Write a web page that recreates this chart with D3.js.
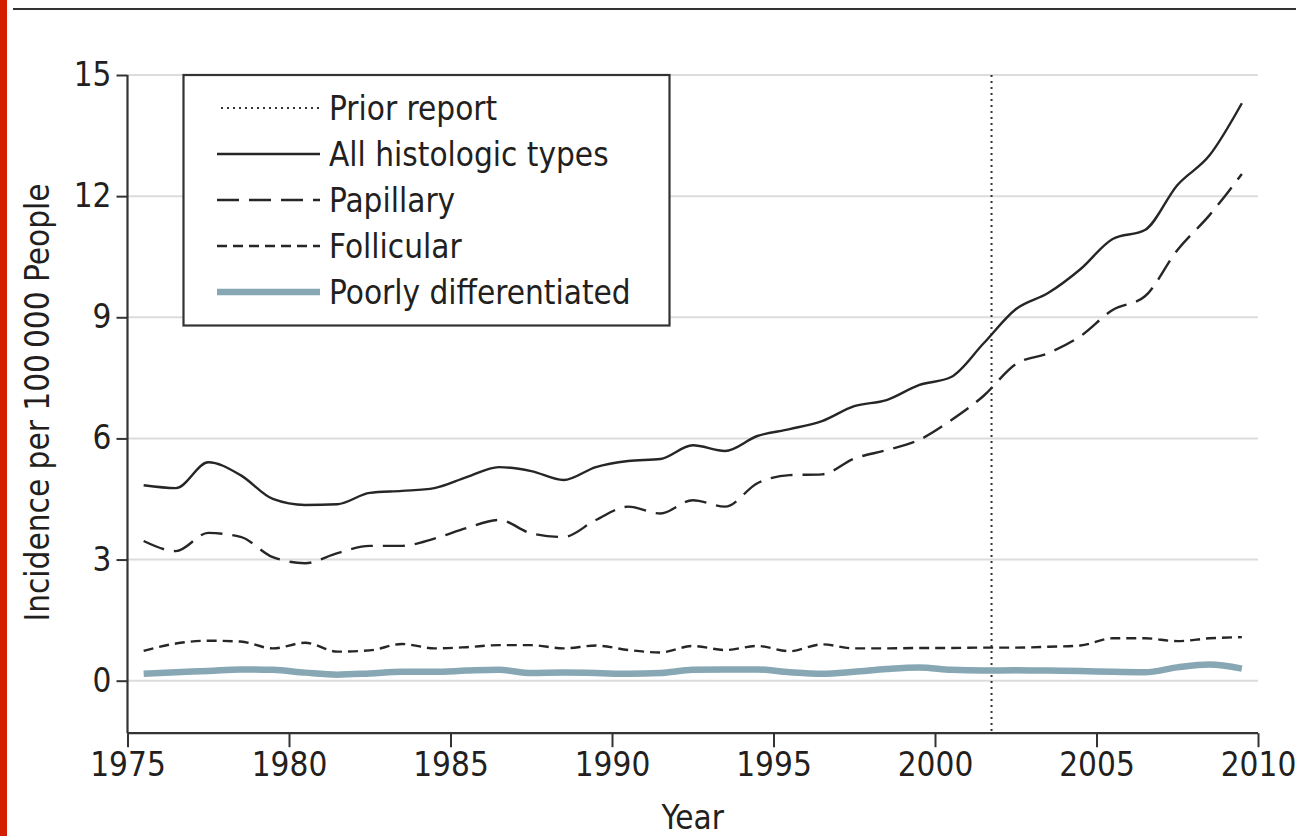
<!DOCTYPE html>
<html>
<head>
<meta charset="utf-8">
<script src="https://cdn.jsdelivr.net/npm/d3@7"></script>
<style>
  html, body { margin: 0; padding: 0; background: #fff; }
  svg { display: block; }
  text { font-family: "Liberation Sans Narrow", "DejaVu Sans Condensed", "Liberation Sans", sans-serif; fill: #231f20; }
</style>
</head>
<body>
<svg id="chart" width="1296" height="836"></svg>
<script>
// Thyroid cancer incidence per 100 000 people by histologic type, 1975-2009
const years = d3.range(1975, 2010);

const allTypes = [4.84, 4.77, 5.41, 5.09, 4.50, 4.35, 4.37, 4.65, 4.70, 4.77,
  5.04, 5.29, 5.19, 4.97, 5.29, 5.44, 5.49, 5.83, 5.69, 6.06,
  6.23, 6.43, 6.80, 6.95, 7.32, 7.52, 8.35, 9.20, 9.60, 10.19,
  10.94, 11.16, 12.27, 13.01, 14.30];

const papillary = [3.46, 3.21, 3.66, 3.56, 3.06, 2.91, 3.16, 3.34, 3.34, 3.52,
  3.78, 3.98, 3.65, 3.56, 3.98, 4.31, 4.14, 4.47, 4.31, 4.89,
  5.09, 5.11, 5.50, 5.71, 5.96, 6.45, 7.05, 7.84, 8.11, 8.53,
  9.18, 9.52, 10.66, 11.53, 12.55];

const follicular = [0.74, 0.92, 0.99, 0.97, 0.80, 0.94, 0.72, 0.75, 0.91, 0.80,
  0.83, 0.88, 0.88, 0.80, 0.87, 0.76, 0.70, 0.86, 0.76, 0.86,
  0.73, 0.90, 0.80, 0.80, 0.81, 0.81, 0.82, 0.82, 0.84, 0.87,
  1.05, 1.05, 0.98, 1.05, 1.08];

const poorlyDiff = [0.17, 0.21, 0.24, 0.28, 0.27, 0.20, 0.15, 0.18, 0.22, 0.22,
  0.25, 0.27, 0.19, 0.20, 0.19, 0.17, 0.19, 0.27, 0.28, 0.28,
  0.21, 0.17, 0.22, 0.29, 0.33, 0.27, 0.25, 0.26, 0.25, 0.24,
  0.22, 0.21, 0.33, 0.40, 0.30];

// Last year covered by the earlier report (vertical marker)
const priorReportYear = 2001.75;

const xTicks = [1975, 1980, 1985, 1990, 1995, 2000, 2005, 2010];
const yTicks = [0, 3, 6, 9, 12, 15];

const seriesNames = ["All histologic types", "Papillary", "Follicular", "Poorly differentiated"];
const seriesValues = [allTypes, papillary, follicular, poorlyDiff];
const seriesStyles = [
  { stroke: "#262626", width: 2.4, dash: null },
  { stroke: "#262626", width: 2.4, dash: "22,10" },
  { stroke: "#262626", width: 2.4, dash: "10,6" },
  { stroke: "#86a7b3", width: 6.5, dash: null }
];

const fontSize = "33px";
const svg = d3.select("#chart");

// page furniture: red edge stripe and top rule
svg.append("rect").attr("x", 0).attr("y", 0).attr("width", 7).attr("height", 836).attr("fill", "#d21f00");
svg.append("line").attr("x1", 13).attr("x2", 1296).attr("y1", 9).attr("y2", 9)
  .attr("stroke", "#333").attr("stroke-width", 2);

const plot = { left: 127.5, right: 1258 };
const yMin = -1.3, yMax = 15;

const x = d3.scaleLinear().domain([1975, 2010]).range([plot.left, plot.right]);
// value 0 sits at 680.7 px and value 15 at 75 px
const y = d3.scaleLinear().domain([yMin, yMax]).range([680.7 - yMin * (680.7 - 75) / 15, 75]);

// horizontal gridlines
svg.append("g").selectAll("line").data(yTicks).join("line")
  .attr("x1", plot.left).attr("x2", plot.right)
  .attr("y1", d => y(d)).attr("y2", d => y(d))
  .attr("stroke", "#dcdcdc").attr("stroke-width", 2);

// y axis
const yAxis = svg.append("g").attr("transform", `translate(${plot.left},0)`)
  .call(d3.axisLeft(y).tickValues(yTicks).tickSize(11).tickPadding(5).tickFormat(d3.format("d")));
yAxis.select(".domain").attr("d", `M0,${y(yMax)}V${y(yMin)}`).attr("stroke", "#333").attr("stroke-width", 2.2);
yAxis.selectAll(".tick line").attr("stroke", "#333").attr("stroke-width", 2);
yAxis.selectAll(".tick text").style("font-size", fontSize).attr("fill", "#231f20");

// x axis
const xAxis = svg.append("g").attr("transform", `translate(0,${y(yMin)})`)
  .call(d3.axisBottom(x).tickValues(xTicks).tickSize(14).tickPadding(5).tickFormat(d3.format("d")));
xAxis.select(".domain").attr("d", `M${plot.left},0H${plot.right}`).attr("stroke", "#333").attr("stroke-width", 2.2);
xAxis.selectAll(".tick line").attr("stroke", "#333").attr("stroke-width", 2);
xAxis.selectAll(".tick text").style("font-size", fontSize).attr("fill", "#231f20");

// axis titles
svg.append("text").attr("x", x(1992.5)).attr("y", 829).attr("text-anchor", "middle")
  .style("font-size", fontSize).text("Year");
svg.append("text").attr("transform", `translate(49,${(185 + 620) / 2}) rotate(-90)`)
  .attr("text-anchor", "middle").style("font-size", fontSize).text("Incidence per 100\u2009000 People");

// prior report marker
svg.append("line")
  .attr("x1", x(priorReportYear)).attr("x2", x(priorReportYear))
  .attr("y1", y(yMax)).attr("y2", y(yMin))
  .attr("stroke", "#333").attr("stroke-width", 2).attr("stroke-dasharray", "2,4");

// series lines
const line = d3.line().x((d, i) => x(years[i] + 0.5)).y(d => y(d)).curve(d3.curveMonotoneX);
[3, 2, 1, 0].forEach(k => {
  const s = seriesStyles[k];
  svg.append("path").datum(seriesValues[k])
    .attr("d", line).attr("fill", "none")
    .attr("stroke", s.stroke).attr("stroke-width", s.width)
    .attr("stroke-dasharray", s.dash)
    .attr("stroke-linejoin", "round");
});

// legend
const legend = svg.append("g");
legend.append("rect").attr("x", 183.5).attr("y", 75).attr("width", 486).attr("height", 250.5)
  .attr("fill", "#fff").attr("stroke", "#333").attr("stroke-width", 2.2);
const legendItems = [
  { name: "Prior report", stroke: "#333", width: 2, dash: "2,4" }
].concat(seriesNames.map((n, i) => ({ name: n, ...seriesStyles[i] })));
legendItems.forEach((it, i) => {
  const cy = 108 + i * 46;
  legend.append("line").attr("x1", i === 0 ? 221 : 217).attr("x2", 320)
    .attr("y1", cy).attr("y2", cy)
    .attr("stroke", it.stroke).attr("stroke-width", it.width).attr("stroke-dasharray", it.dash);
  legend.append("text").attr("x", 329).attr("y", cy).attr("dy", "0.35em")
    .style("font-size", fontSize).text(it.name);
});
</script>
</body>
</html>
